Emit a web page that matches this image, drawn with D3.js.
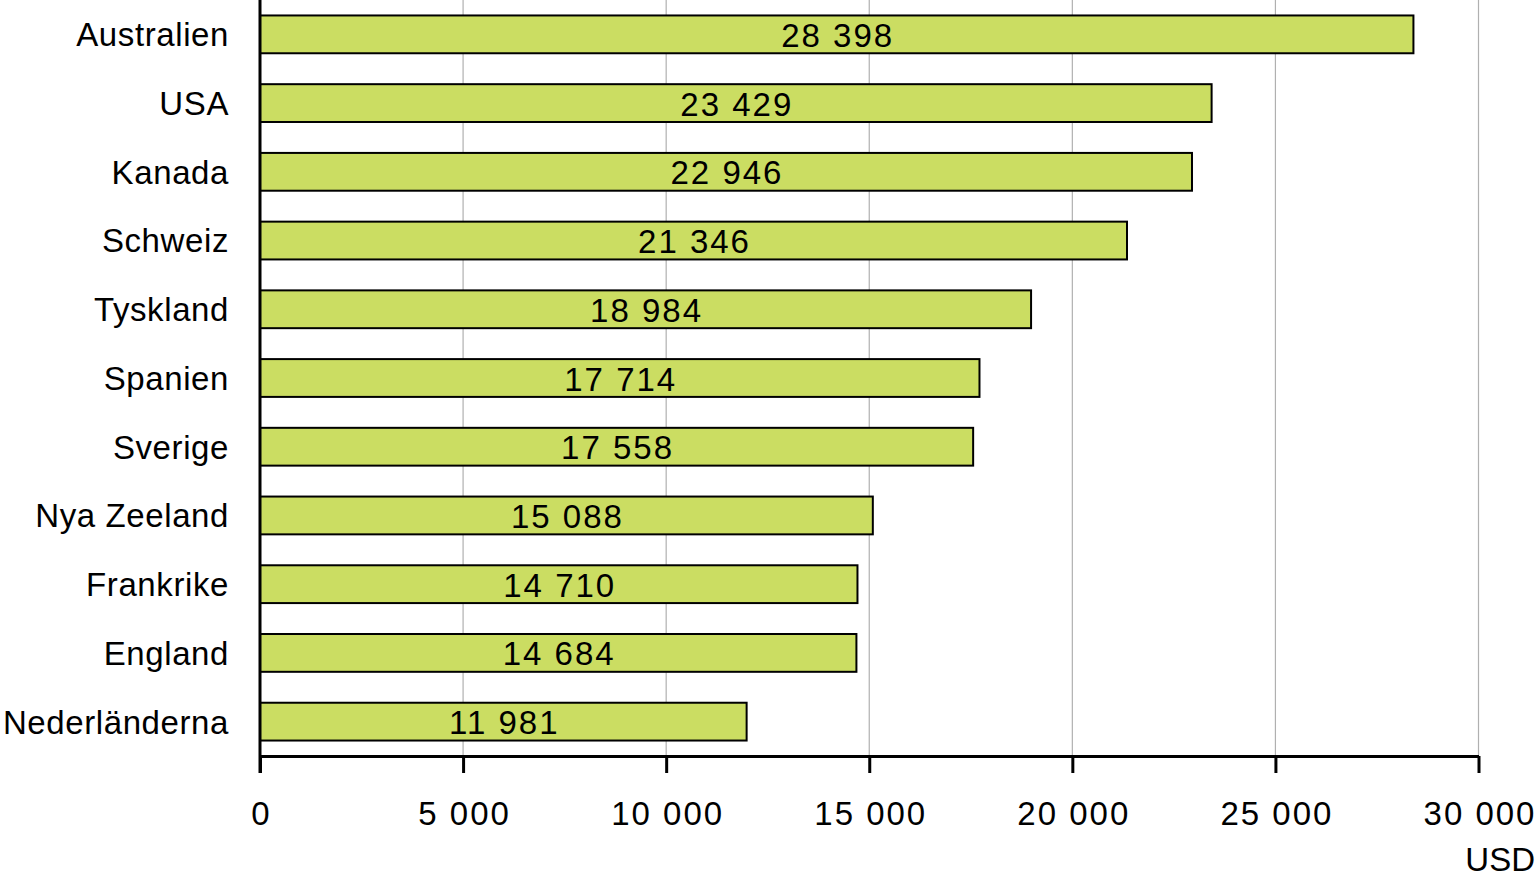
<!DOCTYPE html>
<html><head><meta charset="utf-8">
<script src="https://cdn.jsdelivr.net/npm/d3@7/dist/d3.min.js"></script>
<style>body{margin:0;background:#fff}svg{display:block}text{font-family:"Liberation Sans",Arial,sans-serif;fill:#000}</style>
</head><body><svg id="c" width="1537" height="880"></svg>
<script>
const categories = ["Australien","USA","Kanada","Schweiz","Tyskland","Spanien","Sverige","Nya Zeeland","Frankrike","England","Nederländerna"];
const values = [28398,23429,22946,21346,18984,17714,17558,15088,14710,14684,11981];
const valueLabels = ["28 398","23 429","22 946","21 346","18 984","17 714","17 558","15 088","14 710","14 684","11 981"];
const xTicks = [0,5000,10000,15000,20000,25000,30000];
const xTickLabels = ["0","5 000","10 000","15 000","20 000","25 000","30 000"];
const unitLabel = "USD";

const svg = d3.select("#c");
const x = d3.scaleLinear().domain([0,30000]).range([260,1478.5]);
const y = d3.scaleBand().domain(categories).range([0,756]).paddingInner(0.45).paddingOuter(0.225);

// gridlines
svg.append("g").selectAll("line").data(xTicks.slice(1)).join("line")
  .attr("x1",d=>x(d)).attr("x2",d=>x(d)).attr("y1",0).attr("y2",756)
  .attr("stroke","#b0b0b0").attr("stroke-width",1.2);

// bars
svg.append("g").selectAll("rect").data(values).join("rect")
  .attr("x",x(0)).attr("y",(d,i)=>y(categories[i]))
  .attr("width",d=>x(d)-x(0)).attr("height",y.bandwidth())
  .attr("fill","#cbdd62").attr("stroke","#000").attr("stroke-width",2);

// value labels
svg.append("g").selectAll("text").data(values).join("text")
  .attr("x",d=>(x(0)+x(d))/2 + 1).attr("y",(d,i)=>y(categories[i])+y.bandwidth()/2)
  .attr("dy","0.38em").attr("text-anchor","middle").attr("font-size",33)
  .attr("letter-spacing","2px")
  .text((d,i)=>valueLabels[i]);

// category labels
svg.append("g").selectAll("text").data(categories).join("text")
  .attr("x",229).attr("y",d=>y(d)+y.bandwidth()/2)
  .attr("dy","0.36em").attr("text-anchor","end").attr("font-size",33)
  .attr("letter-spacing","0.6px")
  .text(d=>d);

// x axis
const xAxis = d3.axisBottom(x).tickValues(xTicks).tickFormat((d,i)=>xTickLabels[i]).tickSize(17).tickSizeOuter(0).tickPadding(0);
const ga = svg.append("g").attr("transform","translate(0,756)").call(xAxis);
ga.select(".domain").attr("stroke","#000").attr("stroke-width",3);
ga.selectAll(".tick line").attr("stroke","#000").attr("stroke-width",3);
ga.selectAll(".tick text").attr("font-size",33).attr("font-family","Liberation Sans, Arial, sans-serif")
  .attr("fill","#000").attr("y",69).attr("dy",0).attr("dx",1).attr("letter-spacing","2px");

// y axis line
svg.append("line").attr("x1",x(0)).attr("x2",x(0)).attr("y1",0).attr("y2",773)
  .attr("stroke","#000").attr("stroke-width",3);

svg.append("text").attr("x",1535).attr("y",871).attr("text-anchor","end").attr("font-size",33).text(unitLabel);
</script></body></html>
